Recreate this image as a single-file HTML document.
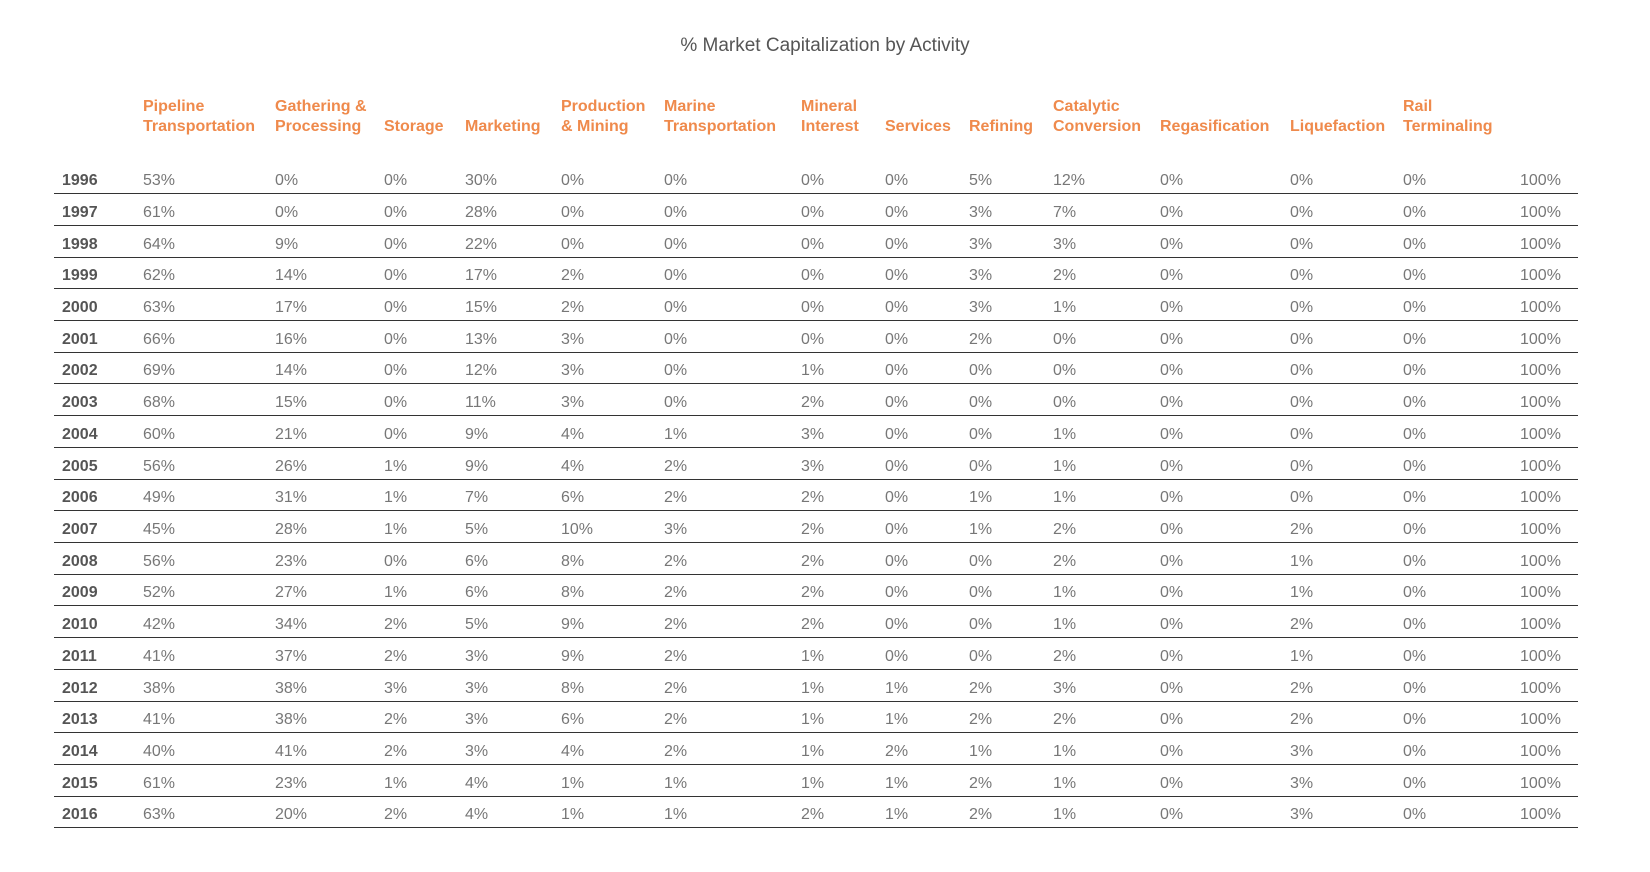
<!DOCTYPE html>
<html><head><meta charset="utf-8"><style>
body{margin:0;width:1650px;height:872px;background:#fff;position:relative;overflow:hidden;font-family:"Liberation Sans Narrow","Liberation Sans",sans-serif;}
.t{position:absolute;top:35px;left:0;width:1650px;text-align:center;font-size:19px;color:#555;}
.h{position:absolute;top:93px;height:44px;font-weight:bold;color:#ef8a4c;font-size:16px;line-height:20px;}
.h span{position:absolute;bottom:0;white-space:nowrap;}
.r{position:absolute;left:54px;width:1524px;height:30.2px;border-bottom:1.5px solid #333;font-size:16px;color:#777;}
.r span{position:absolute;top:9px;white-space:nowrap;}
.r span:first-child{font-weight:bold;color:#555;}
.c0{left:8px}.c1{left:89px}.c2{left:221px}.c3{left:330px}.c4{left:411px}.c5{left:507px}.c6{left:610px}.c7{left:747px}.c8{left:831px}.c9{left:915px}.c10{left:999px}.c11{left:1106px}.c12{left:1236px}.c13{left:1349px}.c14{left:1466px}
</style></head><body>
<div class="t">% Market Capitalization by Activity</div>
<div class="h" style="left:54px;width:1524px">
<span class="c1">Pipeline<br>Transportation</span><span class="c2">Gathering &amp;<br>Processing</span><span class="c3">Storage</span><span class="c4">Marketing</span><span class="c5">Production<br>&amp; Mining</span><span class="c6">Marine<br>Transportation</span><span class="c7">Mineral<br>Interest</span><span class="c8">Services</span><span class="c9">Refining</span><span class="c10">Catalytic<br>Conversion</span><span class="c11">Regasification</span><span class="c12">Liquefaction</span><span class="c13">Rail<br>Terminaling</span>
</div>
<div class="r" style="top:163px"><span class="c0">1996</span><span class="c1">53%</span><span class="c2">0%</span><span class="c3">0%</span><span class="c4">30%</span><span class="c5">0%</span><span class="c6">0%</span><span class="c7">0%</span><span class="c8">0%</span><span class="c9">5%</span><span class="c10">12%</span><span class="c11">0%</span><span class="c12">0%</span><span class="c13">0%</span><span class="c14">100%</span></div>
<div class="r" style="top:195px"><span class="c0">1997</span><span class="c1">61%</span><span class="c2">0%</span><span class="c3">0%</span><span class="c4">28%</span><span class="c5">0%</span><span class="c6">0%</span><span class="c7">0%</span><span class="c8">0%</span><span class="c9">3%</span><span class="c10">7%</span><span class="c11">0%</span><span class="c12">0%</span><span class="c13">0%</span><span class="c14">100%</span></div>
<div class="r" style="top:227px"><span class="c0">1998</span><span class="c1">64%</span><span class="c2">9%</span><span class="c3">0%</span><span class="c4">22%</span><span class="c5">0%</span><span class="c6">0%</span><span class="c7">0%</span><span class="c8">0%</span><span class="c9">3%</span><span class="c10">3%</span><span class="c11">0%</span><span class="c12">0%</span><span class="c13">0%</span><span class="c14">100%</span></div>
<div class="r" style="top:258px"><span class="c0">1999</span><span class="c1">62%</span><span class="c2">14%</span><span class="c3">0%</span><span class="c4">17%</span><span class="c5">2%</span><span class="c6">0%</span><span class="c7">0%</span><span class="c8">0%</span><span class="c9">3%</span><span class="c10">2%</span><span class="c11">0%</span><span class="c12">0%</span><span class="c13">0%</span><span class="c14">100%</span></div>
<div class="r" style="top:290px"><span class="c0">2000</span><span class="c1">63%</span><span class="c2">17%</span><span class="c3">0%</span><span class="c4">15%</span><span class="c5">2%</span><span class="c6">0%</span><span class="c7">0%</span><span class="c8">0%</span><span class="c9">3%</span><span class="c10">1%</span><span class="c11">0%</span><span class="c12">0%</span><span class="c13">0%</span><span class="c14">100%</span></div>
<div class="r" style="top:322px"><span class="c0">2001</span><span class="c1">66%</span><span class="c2">16%</span><span class="c3">0%</span><span class="c4">13%</span><span class="c5">3%</span><span class="c6">0%</span><span class="c7">0%</span><span class="c8">0%</span><span class="c9">2%</span><span class="c10">0%</span><span class="c11">0%</span><span class="c12">0%</span><span class="c13">0%</span><span class="c14">100%</span></div>
<div class="r" style="top:353px"><span class="c0">2002</span><span class="c1">69%</span><span class="c2">14%</span><span class="c3">0%</span><span class="c4">12%</span><span class="c5">3%</span><span class="c6">0%</span><span class="c7">1%</span><span class="c8">0%</span><span class="c9">0%</span><span class="c10">0%</span><span class="c11">0%</span><span class="c12">0%</span><span class="c13">0%</span><span class="c14">100%</span></div>
<div class="r" style="top:385px"><span class="c0">2003</span><span class="c1">68%</span><span class="c2">15%</span><span class="c3">0%</span><span class="c4">11%</span><span class="c5">3%</span><span class="c6">0%</span><span class="c7">2%</span><span class="c8">0%</span><span class="c9">0%</span><span class="c10">0%</span><span class="c11">0%</span><span class="c12">0%</span><span class="c13">0%</span><span class="c14">100%</span></div>
<div class="r" style="top:417px"><span class="c0">2004</span><span class="c1">60%</span><span class="c2">21%</span><span class="c3">0%</span><span class="c4">9%</span><span class="c5">4%</span><span class="c6">1%</span><span class="c7">3%</span><span class="c8">0%</span><span class="c9">0%</span><span class="c10">1%</span><span class="c11">0%</span><span class="c12">0%</span><span class="c13">0%</span><span class="c14">100%</span></div>
<div class="r" style="top:449px"><span class="c0">2005</span><span class="c1">56%</span><span class="c2">26%</span><span class="c3">1%</span><span class="c4">9%</span><span class="c5">4%</span><span class="c6">2%</span><span class="c7">3%</span><span class="c8">0%</span><span class="c9">0%</span><span class="c10">1%</span><span class="c11">0%</span><span class="c12">0%</span><span class="c13">0%</span><span class="c14">100%</span></div>
<div class="r" style="top:480px"><span class="c0">2006</span><span class="c1">49%</span><span class="c2">31%</span><span class="c3">1%</span><span class="c4">7%</span><span class="c5">6%</span><span class="c6">2%</span><span class="c7">2%</span><span class="c8">0%</span><span class="c9">1%</span><span class="c10">1%</span><span class="c11">0%</span><span class="c12">0%</span><span class="c13">0%</span><span class="c14">100%</span></div>
<div class="r" style="top:512px"><span class="c0">2007</span><span class="c1">45%</span><span class="c2">28%</span><span class="c3">1%</span><span class="c4">5%</span><span class="c5">10%</span><span class="c6">3%</span><span class="c7">2%</span><span class="c8">0%</span><span class="c9">1%</span><span class="c10">2%</span><span class="c11">0%</span><span class="c12">2%</span><span class="c13">0%</span><span class="c14">100%</span></div>
<div class="r" style="top:544px"><span class="c0">2008</span><span class="c1">56%</span><span class="c2">23%</span><span class="c3">0%</span><span class="c4">6%</span><span class="c5">8%</span><span class="c6">2%</span><span class="c7">2%</span><span class="c8">0%</span><span class="c9">0%</span><span class="c10">2%</span><span class="c11">0%</span><span class="c12">1%</span><span class="c13">0%</span><span class="c14">100%</span></div>
<div class="r" style="top:575px"><span class="c0">2009</span><span class="c1">52%</span><span class="c2">27%</span><span class="c3">1%</span><span class="c4">6%</span><span class="c5">8%</span><span class="c6">2%</span><span class="c7">2%</span><span class="c8">0%</span><span class="c9">0%</span><span class="c10">1%</span><span class="c11">0%</span><span class="c12">1%</span><span class="c13">0%</span><span class="c14">100%</span></div>
<div class="r" style="top:607px"><span class="c0">2010</span><span class="c1">42%</span><span class="c2">34%</span><span class="c3">2%</span><span class="c4">5%</span><span class="c5">9%</span><span class="c6">2%</span><span class="c7">2%</span><span class="c8">0%</span><span class="c9">0%</span><span class="c10">1%</span><span class="c11">0%</span><span class="c12">2%</span><span class="c13">0%</span><span class="c14">100%</span></div>
<div class="r" style="top:639px"><span class="c0">2011</span><span class="c1">41%</span><span class="c2">37%</span><span class="c3">2%</span><span class="c4">3%</span><span class="c5">9%</span><span class="c6">2%</span><span class="c7">1%</span><span class="c8">0%</span><span class="c9">0%</span><span class="c10">2%</span><span class="c11">0%</span><span class="c12">1%</span><span class="c13">0%</span><span class="c14">100%</span></div>
<div class="r" style="top:671px"><span class="c0">2012</span><span class="c1">38%</span><span class="c2">38%</span><span class="c3">3%</span><span class="c4">3%</span><span class="c5">8%</span><span class="c6">2%</span><span class="c7">1%</span><span class="c8">1%</span><span class="c9">2%</span><span class="c10">3%</span><span class="c11">0%</span><span class="c12">2%</span><span class="c13">0%</span><span class="c14">100%</span></div>
<div class="r" style="top:702px"><span class="c0">2013</span><span class="c1">41%</span><span class="c2">38%</span><span class="c3">2%</span><span class="c4">3%</span><span class="c5">6%</span><span class="c6">2%</span><span class="c7">1%</span><span class="c8">1%</span><span class="c9">2%</span><span class="c10">2%</span><span class="c11">0%</span><span class="c12">2%</span><span class="c13">0%</span><span class="c14">100%</span></div>
<div class="r" style="top:734px"><span class="c0">2014</span><span class="c1">40%</span><span class="c2">41%</span><span class="c3">2%</span><span class="c4">3%</span><span class="c5">4%</span><span class="c6">2%</span><span class="c7">1%</span><span class="c8">2%</span><span class="c9">1%</span><span class="c10">1%</span><span class="c11">0%</span><span class="c12">3%</span><span class="c13">0%</span><span class="c14">100%</span></div>
<div class="r" style="top:766px"><span class="c0">2015</span><span class="c1">61%</span><span class="c2">23%</span><span class="c3">1%</span><span class="c4">4%</span><span class="c5">1%</span><span class="c6">1%</span><span class="c7">1%</span><span class="c8">1%</span><span class="c9">2%</span><span class="c10">1%</span><span class="c11">0%</span><span class="c12">3%</span><span class="c13">0%</span><span class="c14">100%</span></div>
<div class="r" style="top:797px"><span class="c0">2016</span><span class="c1">63%</span><span class="c2">20%</span><span class="c3">2%</span><span class="c4">4%</span><span class="c5">1%</span><span class="c6">1%</span><span class="c7">2%</span><span class="c8">1%</span><span class="c9">2%</span><span class="c10">1%</span><span class="c11">0%</span><span class="c12">3%</span><span class="c13">0%</span><span class="c14">100%</span></div>
</body></html>
